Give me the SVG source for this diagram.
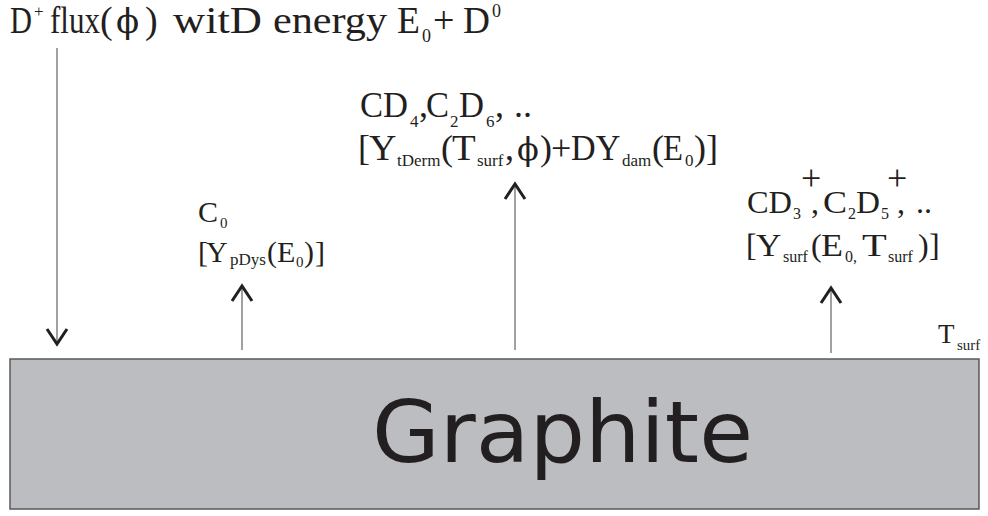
<svg xmlns="http://www.w3.org/2000/svg" width="988" height="516" viewBox="0 0 988 516">
<style>
.t{font-family:"Liberation Serif","Times New Roman",serif;fill:#231f20}
.phi{font-family:"DejaVu Serif","Liberation Serif",serif}
.ln{stroke:#6d6e70;stroke-width:1.3;fill:none}
</style>
<defs>
<marker id="chev" markerUnits="userSpaceOnUse" orient="auto" refX="0" refY="0" markerWidth="40" markerHeight="40" viewBox="-20 -20 40 40" overflow="visible">
<path d="M-15,-10 L0,0 L-15,10" fill="none" stroke="#231f20" stroke-width="3"/>
</marker>
</defs>
<rect width="988" height="516" fill="#fff"/>
<g id="graphite">
<rect x="10" y="359" width="969" height="150" fill="#bcbdc0" stroke="#58595b" stroke-width="1.5"/>
<text x="372" y="462" font-family="DejaVu Sans, Liberation Sans, sans-serif" font-size="86" textLength="381" lengthAdjust="spacingAndGlyphs" fill="#231f20">Graphite</text>
</g>
<g id="connectors">
<line class="ln" x1="57" y1="48" x2="57" y2="344" marker-end="url(#chev)"/>
<line class="ln" x1="242" y1="350" x2="242" y2="286" marker-end="url(#chev)"/>
<line class="ln" x1="515" y1="350" x2="515" y2="184" marker-end="url(#chev)"/>
<line class="ln" x1="831" y1="353" x2="831" y2="288" marker-end="url(#chev)"/>
</g>
<g id="flux">
<text class="t" font-size="38">
<tspan x="10" y="33" textLength="22" lengthAdjust="spacingAndGlyphs">D</tspan>
<tspan x="34" y="17" font-size="17">+</tspan>
<tspan x="50" y="33" textLength="50" lengthAdjust="spacingAndGlyphs">flux</tspan>
<tspan x="100" y="33">(</tspan>
<tspan x="116" y="33" class="phi" font-size="34">ϕ</tspan>
<tspan x="145" y="33">)</tspan>
<tspan x="173" y="33" textLength="89" lengthAdjust="spacingAndGlyphs">witD</tspan>
<tspan x="273" y="33" textLength="114" lengthAdjust="spacingAndGlyphs">energy</tspan>
<tspan x="397" y="33" textLength="23" lengthAdjust="spacingAndGlyphs">E</tspan>
<tspan x="422" y="42" font-size="18">0</tspan>
<tspan x="433" y="33">+</tspan>
<tspan x="463" y="33" textLength="27" lengthAdjust="spacingAndGlyphs">D</tspan>
<tspan x="492" y="17" font-size="18">0</tspan>
</text>
</g>
<g id="c0">
<text class="t" font-size="30">
<tspan x="198" y="222">C</tspan>
<tspan x="220" y="228" font-size="15">0</tspan>
<tspan x="198" y="262">[</tspan>
<tspan x="206" y="262">Y</tspan>
<tspan x="230" y="265" font-size="16" textLength="36" lengthAdjust="spacingAndGlyphs">pDys</tspan>
<tspan x="267" y="262">(</tspan>
<tspan x="277" y="262">E</tspan>
<tspan x="296" y="267" font-size="15">0</tspan>
<tspan x="304" y="262">)</tspan>
<tspan x="315" y="262">]</tspan>
</text>
</g>
<g id="hydrocarbons">
<text class="t" font-size="36">
<tspan x="360" y="117" textLength="48" lengthAdjust="spacingAndGlyphs">CD</tspan>
<tspan x="410" y="127" font-size="17">4</tspan>
<tspan x="419" y="117">,</tspan>
<tspan x="426" y="117" textLength="23" lengthAdjust="spacingAndGlyphs">C</tspan>
<tspan x="450" y="127" font-size="17">2</tspan>
<tspan x="459" y="117" textLength="25" lengthAdjust="spacingAndGlyphs">D</tspan>
<tspan x="486" y="127" font-size="17">6</tspan>
<tspan x="495" y="117">,</tspan>
<tspan x="514" y="117">..</tspan>
<tspan x="358" y="160">[</tspan>
<tspan x="369" y="160" textLength="26" lengthAdjust="spacingAndGlyphs">Y</tspan>
<tspan x="397" y="166" font-size="17">tDerm</tspan>
<tspan x="441" y="160">(</tspan>
<tspan x="452" y="160" textLength="23" lengthAdjust="spacingAndGlyphs">T</tspan>
<tspan x="477" y="166" font-size="17">surf</tspan>
<tspan x="505" y="160">,</tspan>
<tspan x="517" y="160" class="phi" font-size="32">ϕ</tspan>
<tspan x="540" y="160">)</tspan>
<tspan x="551" y="160">+</tspan>
<tspan x="571" y="160" textLength="48" lengthAdjust="spacingAndGlyphs">DY</tspan>
<tspan x="622" y="166" font-size="17">dam</tspan>
<tspan x="652" y="160">(</tspan>
<tspan x="663" y="160" textLength="20" lengthAdjust="spacingAndGlyphs">E</tspan>
<tspan x="685" y="166" font-size="17">0</tspan>
<tspan x="694" y="160">)</tspan>
<tspan x="706" y="160">]</tspan>
</text>
</g>
<g id="ions">
<text class="t" font-size="32">
<tspan x="747" y="213" textLength="45" lengthAdjust="spacingAndGlyphs">CD</tspan>
<tspan x="793" y="219" font-size="16">3</tspan>
<tspan x="801" y="190" font-size="36">+</tspan>
<tspan x="811" y="213">,</tspan>
<tspan x="823" y="213" textLength="24" lengthAdjust="spacingAndGlyphs">C</tspan>
<tspan x="848" y="219" font-size="16">2</tspan>
<tspan x="856" y="213" textLength="24" lengthAdjust="spacingAndGlyphs">D</tspan>
<tspan x="881" y="219" font-size="16">5</tspan>
<tspan x="887" y="190" font-size="36">+</tspan>
<tspan x="897" y="213">,</tspan>
<tspan x="916" y="213">..</tspan>
<tspan x="746" y="256">[</tspan>
<tspan x="756" y="256" textLength="24" lengthAdjust="spacingAndGlyphs">Y</tspan>
<tspan x="783" y="262" font-size="16">surf</tspan>
<tspan x="811" y="256">(</tspan>
<tspan x="821" y="256" textLength="22" lengthAdjust="spacingAndGlyphs">E</tspan>
<tspan x="845" y="262" font-size="16">0,</tspan>
<tspan x="862" y="256" textLength="24" lengthAdjust="spacingAndGlyphs">T</tspan>
<tspan x="888" y="262" font-size="16">surf</tspan>
<tspan x="918" y="256">)</tspan>
<tspan x="929" y="256">]</tspan>
</text>
</g>
<g id="tsurf">
<text class="t" font-size="27">
<tspan x="938" y="343">T</tspan>
<tspan x="957" y="350" font-size="15">surf</tspan>
</text>
</g>
</svg>
